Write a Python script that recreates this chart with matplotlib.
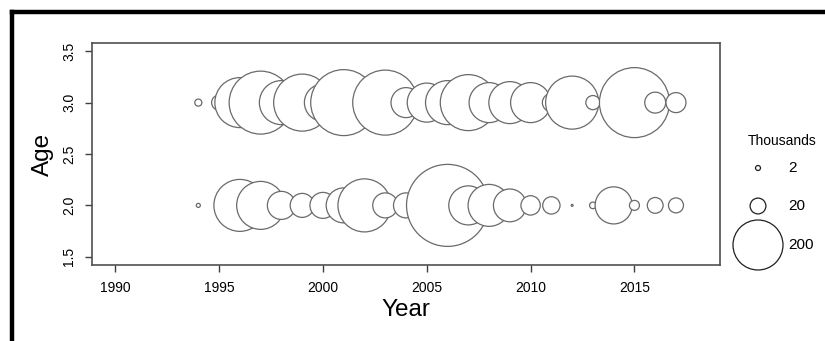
import matplotlib
matplotlib.use("Agg")
from matplotlib import pyplot as plt
from matplotlib.lines import Line2D
import numpy as np

plt.rcParams['font.family'] = ['Liberation Sans', 'DejaVu Sans']

# numbers at age (thousands)
years_age3 = [1994, 1995, 1996, 1997, 1998, 1999, 2000, 2001, 2003, 2004, 2005,
              2006, 2007, 2008, 2009, 2010, 2011, 2012, 2013, 2015, 2016, 2017]
vals_age3 = [4, 18, 200, 317, 155, 260, 110, 348, 338, 72, 122,
             155, 251, 128, 141, 128, 26, 225, 16, 392, 35, 32]

years_age2 = [1994, 1996, 1997, 1998, 1999, 2000, 2001, 2002, 2003, 2004, 2005,
              2006, 2007, 2008, 2009, 2010, 2011, 2012, 2013, 2014, 2015, 2016, 2017]
vals_age2 = [1.3, 216, 184, 63, 46, 54, 98, 225, 50, 50, 60,
             538, 122, 141, 86, 30, 24, 0.3, 3.5, 110, 8, 20, 18]

legend_vals = [2, 20, 200]
legend_labels = ['2', '20', '200']

dpi = 100
r200 = 25.0  # radius in px of a 200 bubble


def sizes(v):
    r = r200 * np.sqrt(np.asarray(v, dtype=float) / 200.0)
    return (2 * r * 72.0 / dpi) ** 2


fig = plt.figure(figsize=(8.25, 3.41), dpi=dpi)
ax = fig.add_axes([92 / 825, 1 - 265 / 341, 628 / 825, 222 / 341])

edge = '#6a6a6a'
# age 3 first, then age 2; within a row later years sit on top
ax.scatter(years_age3, [3] * len(years_age3), s=sizes(vals_age3), facecolors='white',
           edgecolors=edge, linewidths=0.9, zorder=3)
ax.scatter(years_age2, [2] * len(years_age2), s=sizes(vals_age2), facecolors='white',
           edgecolors=edge, linewidths=0.9, zorder=3)

ax.set_xlim(1988.88, 2019.12)
ax.set_ylim(1.42, 3.58)
ax.set_xticks([1990, 1995, 2000, 2005, 2010, 2015])
ax.set_yticks([1.5, 2.0, 2.5, 3.0, 3.5])
ax.set_yticklabels(['1.5', '2.0', '2.5', '3.0', '3.5'], rotation=90, va='center')
ax.tick_params(direction='out', length=5, width=1, colors='#404040', labelsize=10,
               labelcolor='black', pad=6.5)
for sp in ax.spines.values():
    sp.set_color('#505050')
    sp.set_linewidth(1.2)

ax.set_xlabel('Year', fontsize=17.5, labelpad=3)
ax.set_ylabel('Age', fontsize=17.5, labelpad=6)

# size legend outside the plot
lx = (758 - 92) / 628
ly = [(265 - 168) / 222, (265 - 206) / 222, (265 - 245) / 222]
ax.scatter([lx] * 3, ly, s=sizes(legend_vals), facecolors='white', edgecolors='#202020',
           linewidths=0.9, transform=ax.transAxes, clip_on=False, zorder=4)
for y, lab in zip(ly, legend_labels):
    ax.text((788 - 92) / 628, y, lab, transform=ax.transAxes, fontsize=11,
            ha='left', va='center')
ax.text((782 - 92) / 628, (265 - 141) / 222, 'Thousands', transform=ax.transAxes,
        fontsize=10, ha='center', va='center')

# thick black frame (only left and top fall inside the picture)
fig.add_artist(Line2D([12 / 825, 12 / 825], [0, 1 - 12 / 341], transform=fig.transFigure,
                      color='black', linewidth=3.2, solid_capstyle='projecting'))
fig.add_artist(Line2D([12 / 825, 1], [1 - 12 / 341, 1 - 12 / 341], transform=fig.transFigure,
                      color='black', linewidth=3.2, solid_capstyle='projecting'))

fig.savefig('out.png', dpi=dpi)
